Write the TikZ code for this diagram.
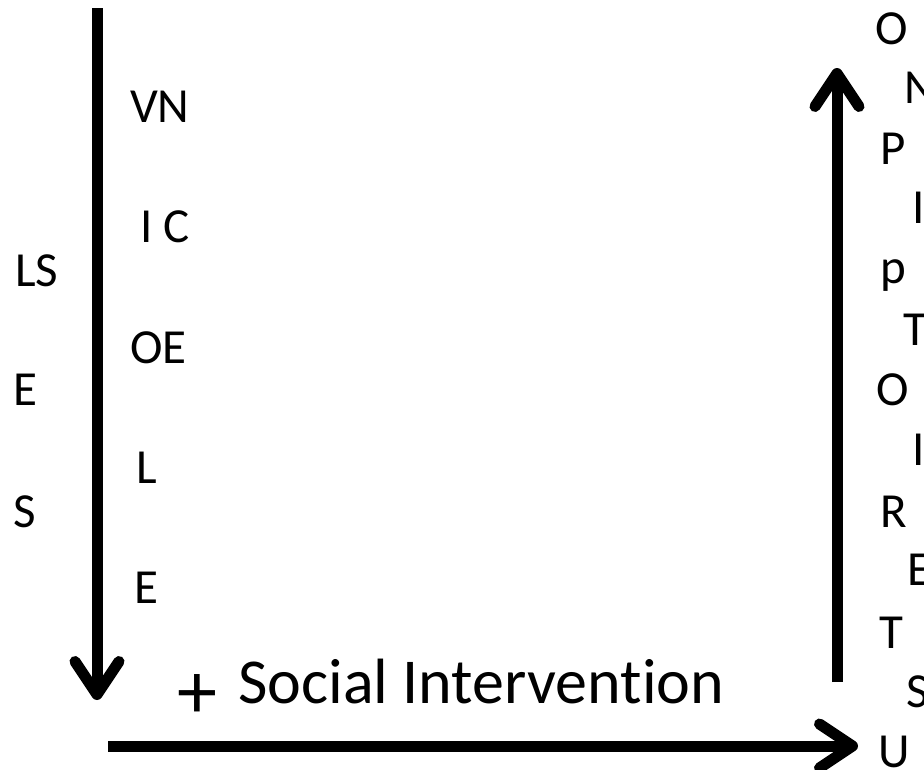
\documentclass[tikz,border=0pt]{standalone}
\usepackage{fontspec}
\setmainfont{Carlito}[Ligatures=NoCommon]
\usetikzlibrary{arrows.meta}

\tikzset{
  letter/.style={font=\fontsize{49}{50}\selectfont, inner sep=0pt, anchor=base west},
  flow/.style={line width=11pt, -{Straight Barb[length=33pt, width=44pt, line cap=round, line join=round]}}
}

\begin{document}
\begin{tikzpicture}[x=1pt,y=1pt,yscale=-1,xscale=1]
\useasboundingbox (0,0) rectangle (924,769);

% Arrow ends
\coordinate (ltop) at (97,8);
\coordinate (lbot) at (97,700);
\coordinate (bstart) at (108,746);
\coordinate (bend) at (858,746);
\coordinate (rbot) at (837,682);
\coordinate (rtop) at (837,68);

%Shape: Arrow [down]
\draw [flow] (ltop) -- (lbot);
%Shape: Arrow [right]
\draw [flow] (bstart) -- (bend);
%Shape: Arrow [up]
\draw [flow] (rbot) -- (rtop);

% Text Node
\draw (130,122) node [letter] (vn) {VN};
% Text Node
\draw (140,242) node [letter] (ic) {I C};
% Text Node
\draw (130,363) node [letter] (oe) {OE};
% Text Node
\draw (136,483) node [letter] (ll) {L};
% Text Node
\draw (134,603) node [letter] (le) {E};

% Text Node
\draw (15,286) node [letter] (ls) {LS};
% Text Node
\draw (13,405) node [letter] (fe) {E};
% Text Node
\draw (13,527) node [letter] (fs) {S};

% Text Node
\draw (875,44) node [letter] (ro) {O};
% Text Node
\draw (904,103) node [letter] (rn) {N};
% Text Node
\draw (880,164) node [letter] (rp) {P};
% Text Node
\draw (912,223) node [letter] (ri) {I};
% Text Node
\draw (880,283) node [letter] (rpp) {p};
% Text Node
\draw (903,345) node [letter] (rt) {T};
% Text Node
\draw (876,405) node [letter] (roo) {O};
% Text Node
\draw (912,465) node [letter] (rii) {I};
% Text Node
\draw (880,527) node [letter] (rr) {R};
% Text Node
\draw (907,585) node [letter] (re) {E};
% Text Node
\draw (879,648) node [letter] (rtt) {T};
% Text Node
\draw (906,707) node [letter] (rs) {S};
% Text Node
\draw (878,767) node [letter] (ru) {U};

% Text Node
\draw (197,696) node [inner sep=0pt, font=\fontsize{80}{80}\selectfont] (plus) {+};
% Text Node
\draw (238,703) node [anchor=base west, inner sep=0pt, font=\fontsize{64}{66}\selectfont] (social) {Social Intervention};

\end{tikzpicture}
\end{document}
